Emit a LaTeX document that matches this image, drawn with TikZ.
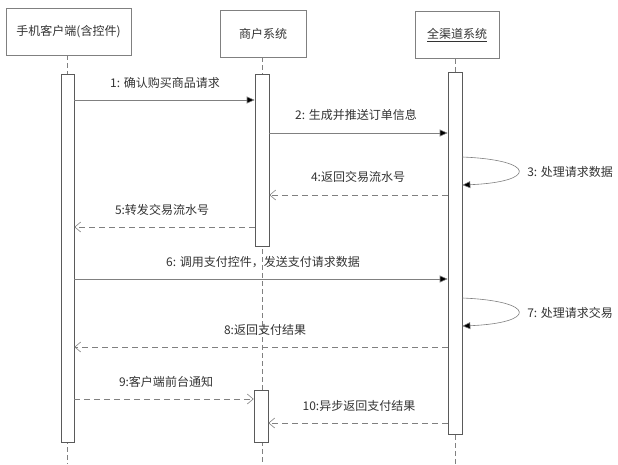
\documentclass[tikz,border=0pt]{standalone}
\usepackage{fontspec}
\setmainfont{Noto Sans CJK SC}
\usetikzlibrary{arrows.meta}
\definecolor{linegray}{HTML}{808080}
\definecolor{bargray}{HTML}{5A5A5A}
\definecolor{txtgray}{HTML}{333333}
\tikzset{
  head/.style={draw=linegray, fill=white, minimum height=47, inner sep=0pt, text=txtgray},
  bar/.style={draw=bargray, fill=white, minimum width=14, inner sep=0pt},
  life/.style={draw=linegray, dashed, dash pattern=on 5pt off 3pt},
  call/.style={draw=linegray, -{Triangle[length=8pt,width=7pt,fill=black]}},
  back/.style={draw=linegray, dashed, dash pattern=on 6pt off 4pt, -{Straight Barb[length=6pt,width=10pt,line width=0.6pt]}},
  lbl/.style={text=txtgray, inner sep=0pt},
}
\begin{document}
\begin{tikzpicture}[x=1pt, y=-1pt, font=\fontsize{12}{14}\selectfont, line width=0.6pt]
    \useasboundingbox (0,0) rectangle (618,464);
    % heads
    \node[head, minimum width=125] (client) at (68.5,31.5) {手机客户端(含控件)};
    \node[head, minimum width=86] (merchant) at (263,33.5) {商户系统};
    \node[head, minimum width=84] (channel) at (457,35) {\underline{全渠道系统}};
    % lifelines
    \coordinate (end1) at (67.5,464);
    \coordinate (end2) at (262,464);
    \coordinate (end3) at (455,464);
    \draw[life] (client.south -| end1) -- (end1);
    \draw[life] (merchant.south -| end2) -- (end2);
    \draw[life] (channel.south -| end3) -- (end3);
    % activation bars
    \node[bar, minimum width=13, minimum height=368] (bar1) at (67.5,258) {};
    \node[bar, minimum height=172] (bar2) at (262,160) {};
    \node[bar, minimum height=52] (bar2b) at (261,416) {};
    \node[bar, minimum height=362] (bar3) at (455,253) {};
    % messages
    \draw[call] (bar1.east |- 0,100) -- (bar2.west |- 0,100);
    \node[lbl] at (165,83) {1: 确认购买商品请求};
    \draw[call] (bar2.east |- 0,133) -- (bar3.west |- 0,133);
    \node[lbl] at (356,115) {2: 生成并推送订单信息};
    \draw[call] (bar3.east |- 0,157) .. controls (537,160) and (537,182) .. (bar3.east |- 0,185);
    \node[lbl, anchor=west] at (527,172) {3: 处理请求数据};
    \draw[back] (bar3.west |- 0,195) -- (bar2.east |- 0,195);
    \node[lbl] at (358,177) {4:返回交易流水号};
    \draw[back] (bar2.west |- 0,227) -- (bar1.east |- 0,227);
    \node[lbl] at (162,210) {5:转发交易流水号};
    \draw[call] (bar1.east |- 0,279) -- (bar3.west |- 0,279);
    \node[lbl] at (263,262) {6: 调用支付控件，发送支付请求数据};
    \draw[call] (bar3.east |- 0,298) .. controls (537,301) and (537,323) .. (bar3.east |- 0,326);
    \node[lbl, anchor=west] at (527,313) {7: 处理请求交易};
    \draw[back] (bar3.west |- 0,347) -- (bar1.east |- 0,347);
    \node[lbl] at (265,330) {8:返回支付结果};
    \draw[back] (bar1.east |- 0,399) -- (bar2b.west |- 0,399);
    \node[lbl] at (166,382) {9:客户端前台通知};
    \draw[back] (bar3.west |- 0,423) -- (bar2b.east |- 0,423);
    \node[lbl] at (359,406) {10:异步返回支付结果};
\end{tikzpicture}
\end{document}
